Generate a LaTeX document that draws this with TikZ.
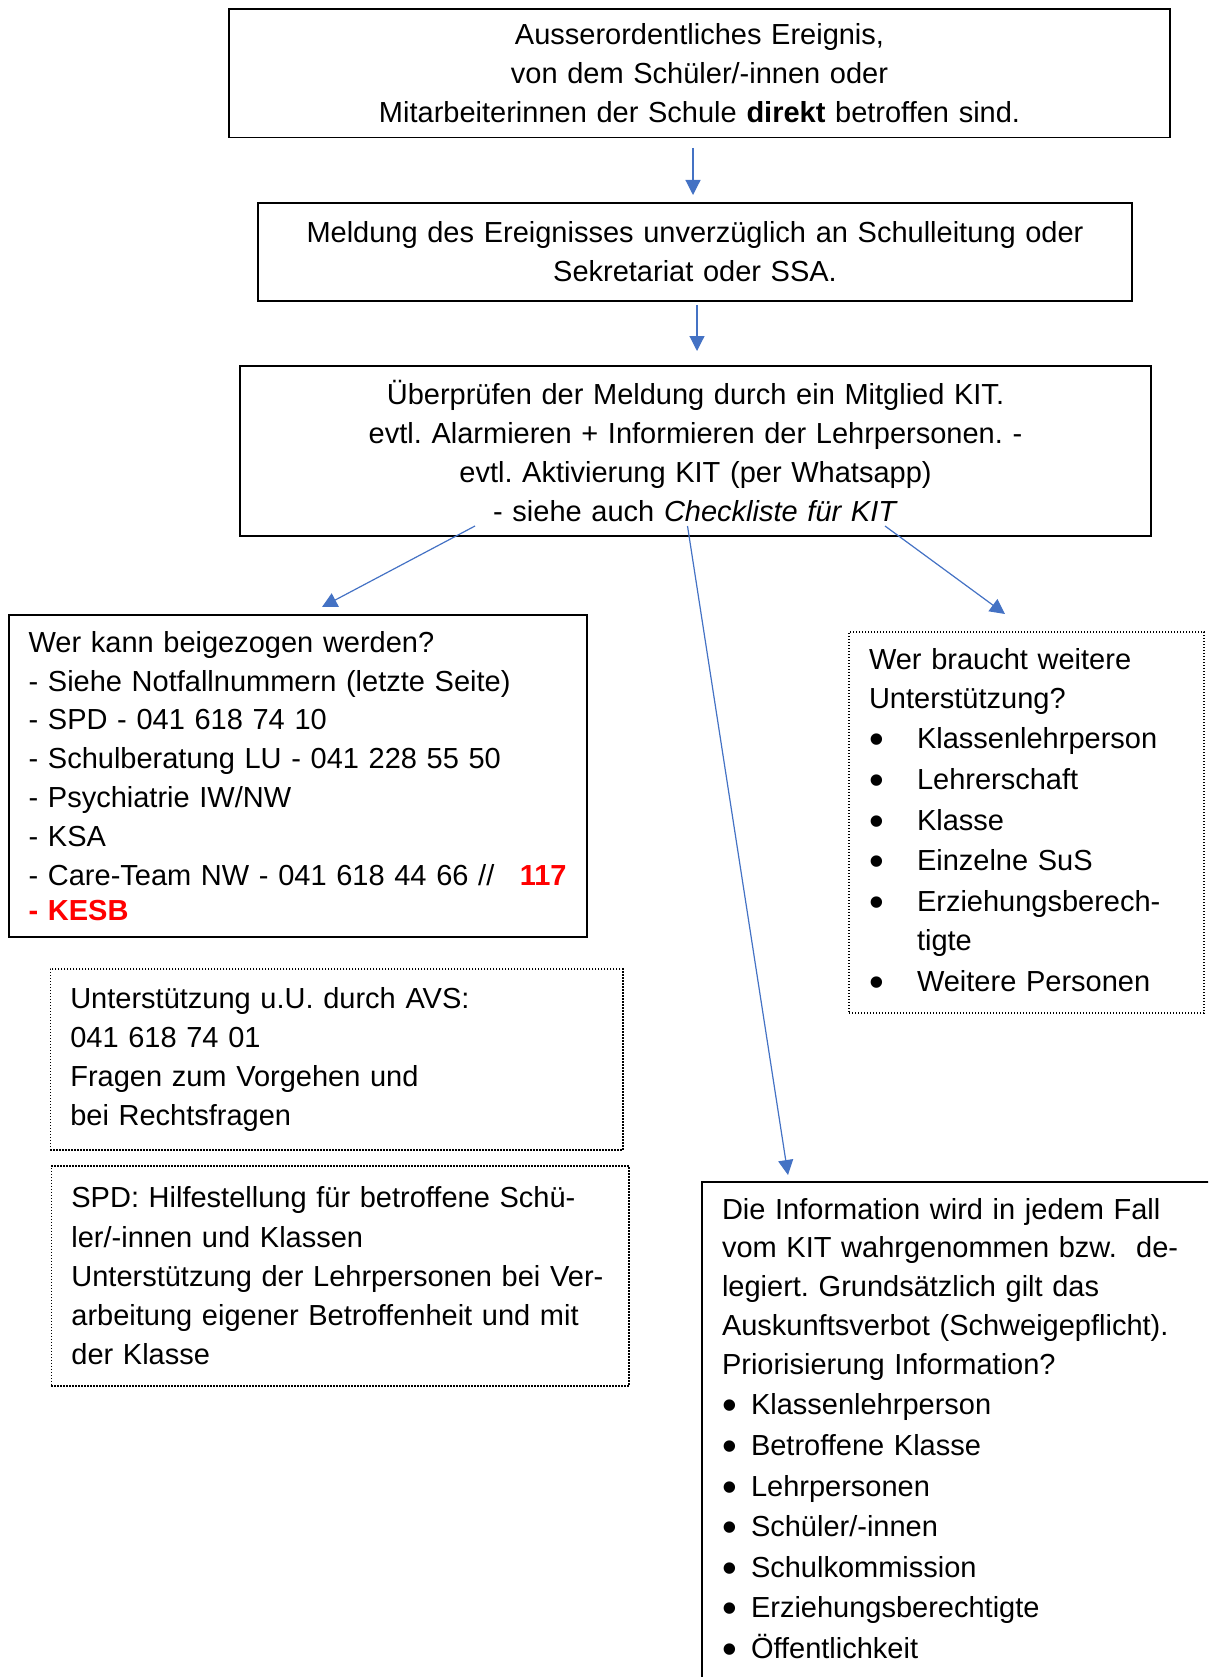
\documentclass[tikz,border=0pt]{standalone}
\usepackage{fontspec}
\setmainfont{Liberation Sans}
\usepackage{tikz}
\usetikzlibrary{arrows.meta}
\definecolor{pfeilblau}{RGB}{68,114,196}
\definecolor{knallrot}{RGB}{255,0,0}
\newcommand{\punkt}[1]{\makebox[#1][l]{\raisebox{-5pt}{\fontsize{42}{42}\selectfont\textbullet}}}
\tikzset{
    kasten/.style={draw, line width=1.8pt, anchor=north west, inner xsep=20pt, inner ysep=0pt, outer sep=0pt, align=left},
    punktkasten/.style={kasten, line width=1.4pt, dash pattern=on 1.4pt off 1.6pt},
    pfeil/.style={pfeilblau, line width=1.2pt, -{Triangle[length=15pt,width=15pt]}},
}

\begin{document}
\begin{tikzpicture}[x=1pt, y=-1pt, font=\fontsize{29}{38.8}\selectfont\frenchspacing]
\clip (0,0) rectangle (1208,1677);
%\draw[step=100] (0,0) grid (1208,1677);

\node[kasten, align=center, text width=901pt, minimum height=128.5pt] (ereignis) at (229,9)
    {Ausserordentliches Ereignis,\\ von dem Schüler/-innen oder\\ Mitarbeiterinnen der Schule \textbf{direkt} betroffen sind.};
\node[kasten, align=center, text width=834pt, minimum height=98pt] (meldung) at (258,203)
    {Meldung des Ereignisses unverzüglich an Schulleitung oder\\ Sekretariat oder SSA.};
\node[kasten, align=center, text width=871pt, minimum height=170pt] (kit) at (240,366)
    {Überprüfen der Meldung durch ein Mitglied KIT.\\ evtl. Alarmieren + Informieren der Lehrpersonen. -\\ evtl. Aktivierung KIT (per Whatsapp)\\ - siehe auch \textit{Checkliste für KIT}};

\node[kasten, text width=538pt, minimum height=322pt] (beizug) at (8.6,615)
    {Wer kann beigezogen werden?\\
    - Siehe Notfallnummern (letzte Seite)\\
    - SPD - 041 618 74 10\\
    - Schulberatung LU - 041 228 55 50\\
    - Psychiatrie IW/NW\\
    - KSA\\
    - Care-Team NW - 041 618 44 66 // \hfill\textcolor{knallrot}{\textbf{117}}\\[-3.5pt]
    \textcolor{knallrot}{\textbf{- KESB}}};
\node[punktkasten, text width=315pt, minimum height=381pt] (bedarf) at (849,632)
    {Wer braucht weitere\\ Unterstützung?\\[1.8pt]
    \punkt{48pt}Klassenlehrperson\\[1.8pt]
    \punkt{48pt}Lehrerschaft\\[1.8pt]
    \punkt{48pt}Klasse\\[1.8pt]
    \punkt{48pt}Einzelne SuS\\[1.8pt]
    \punkt{48pt}Erziehungsberech-\\[0.8pt]
    \hspace*{48pt}tigte\\[1.8pt]
    \punkt{48pt}Weitere Personen};

\node[punktkasten, text width=532.5pt, minimum height=181pt] (avs) at (50.3,969)
    {Unterstützung u.U. durch AVS:\\ 041 618 74 01\\ Fragen zum Vorgehen und\\ bei Rechtsfragen};
\node[punktkasten, text width=537.6pt, minimum height=220pt] (spd) at (51.4,1166)
    {SPD: Hilfestellung für betroffene Schü-\\[0.5pt] ler/-innen und Klassen\\[0.5pt] Unterstützung der Lehrpersonen bei Ver-\\[0.5pt] arbeitung eigener Betroffenheit und mit\\[0.5pt] der Klasse};

% Kasten unten rechts laeuft ueber den Rand hinaus
\node[kasten, text width=500pt, inner ysep=16pt] (info) at (702,1182)
    {Die Information wird in jedem Fall\\
    vom KIT wahrgenommen bzw.\ \ de-\\
    legiert. Grundsätzlich gilt das\\
    Auskunftsverbot (Schweigepflicht).\\
    Priorisierung Information?\\[1.8pt]
    \punkt{29pt}Klassenlehrperson\\[1.8pt]
    \punkt{29pt}Betroffene Klasse\\[1.8pt]
    \punkt{29pt}Lehrpersonen\\[1.8pt]
    \punkt{29pt}Schüler/-innen\\[1.8pt]
    \punkt{29pt}Schulkommission\\[1.8pt]
    \punkt{29pt}Erziehungsberechtigte\\[1.8pt]
    \punkt{29pt}Öffentlichkeit\par\vspace*{80pt}\leavevmode};

\draw[pfeil] ([xshift=-6.5pt,yshift=-10.5pt]ereignis.south) -- ([xshift=-2pt,yshift=8pt]meldung.north);
\draw[pfeil] ([xshift=2pt,yshift=-4pt]meldung.south) -- ([xshift=1.5pt,yshift=15pt]kit.north);
\draw[pfeil] ([xshift=-220.5pt,yshift=10pt]kit.south) -- ([xshift=24.4pt,yshift=8pt]beizug.north);
\draw[pfeil] ([xshift=-8pt,yshift=10pt]kit.south) -- ([xshift=86pt,yshift=7pt]info.north west);
\draw[pfeil] ([xshift=189.5pt,yshift=10pt]kit.south) -- ([xshift=-21.5pt,yshift=18pt]bedarf.north);
\end{tikzpicture}
\end{document}
